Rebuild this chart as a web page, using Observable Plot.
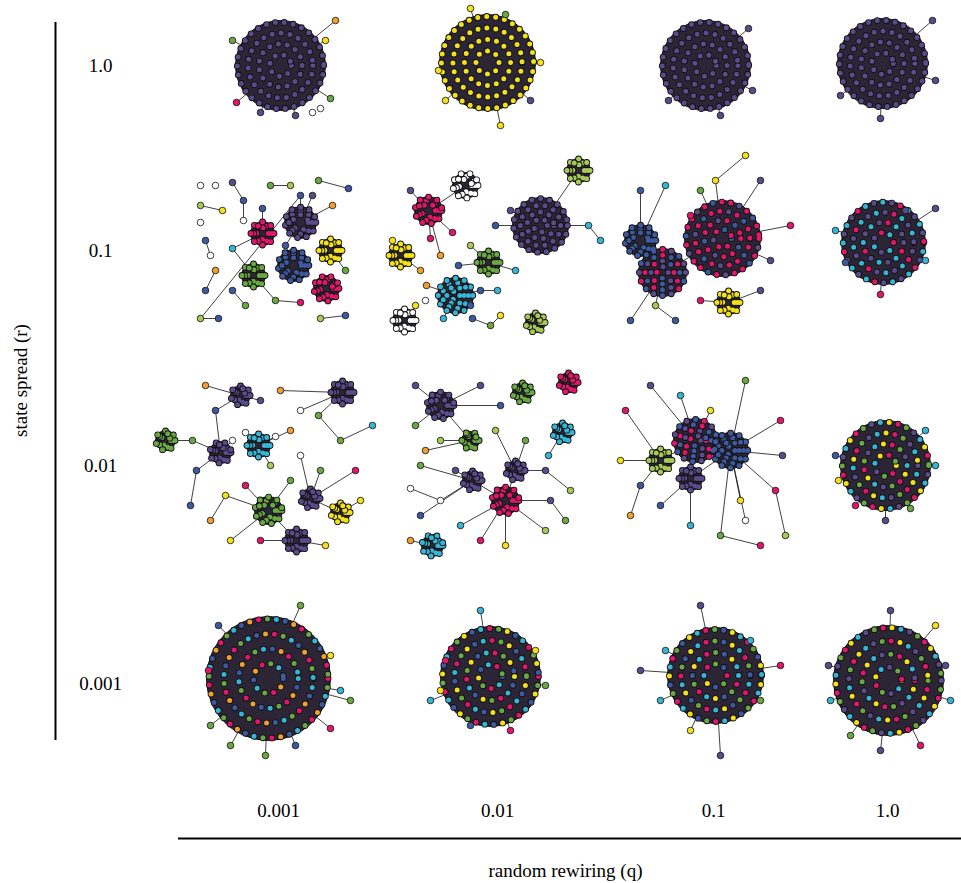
<!DOCTYPE html>
<html><head><meta charset="utf-8">
<script src="https://cdn.jsdelivr.net/npm/d3@7"></script>
<script src="https://cdn.jsdelivr.net/npm/@observablehq/plot@0.6"></script>
<style>body{margin:0;background:#fff}</style>
</head><body><div id="chart"></div>
<script>
// grid of network snapshots: rows = state spread r, columns = random rewiring q
const COLORS = {p:"#5a4b8c", y:"#f2e11b", m:"#e0176a", g:"#6aa843", b:"#3d5aa0",
  c:"#37b5d6", o:"#f0a030", w:"#ffffff", l:"#a8c85a"};

const rowLabels = ["1.0", "0.1", "0.01", "0.001"];
const rowY = [65, 250, 465, 683];
const colLabels = ["0.001", "0.01", "0.1", "1.0"];
const colX = [278, 497, 713, 887];

// each panel: dense clusters [x, y, radius, colour codes], loose nodes [x, y, colour], edges [i, j] (clusters first)
const panels = [
  {blobs:[[280,65,45,"p"]], nodes:[[236,102,"m"],[320,108,"w"],[312,112,"w"],[330,98,"g"],[325,40,"y"],[335,20,"o"],[232,40,"g"],[295,115,"p"],[260,112,"p"]],
   edges:[[0,1],[0,4],[0,5],[0,6],[0,7],[0,8],[0,9]]},
  {blobs:[[487,62,48,"y"]], nodes:[[445,100,"y"],[500,125,"y"],[540,62,"y"],[470,8,"y"],[505,14,"g"],[438,70,"y"],[530,100,"p"]],
   edges:[[0,1],[0,2],[0,3],[0,4],[0,5],[0,6],[0,7]]},
  {blobs:[[705,65,45,"p"]], nodes:[[668,100,"p"],[748,28,"p"],[720,115,"p"],[752,90,"p"]],
   edges:[[0,1],[0,2],[0,3],[0,4]]},
  {blobs:[[882,63,45,"p"]], nodes:[[840,95,"p"],[932,20,"p"],[880,118,"p"],[935,80,"p"]],
   edges:[[0,1],[0,2],[0,3],[0,4]]},

  {blobs:[[262,233,12,"m"],[300,222,16,"p"],[253,275,12,"g"],[293,265,16,"b"],[330,250,12,"y"],[326,288,13,"m"]],
   nodes:[[200,185,"w"],[215,185,"w"],[232,182,"p"],[270,185,"g"],[290,185,"l"],[318,180,"g"],[348,188,"b"],[200,205,"l"],[222,210,"y"],[243,200,"b"],[243,220,"w"],[300,195,"b"],[332,205,"o"],[205,240,"b"],[210,255,"w"],[215,270,"o"],[205,290,"b"],[232,290,"b"],[218,318,"b"],[245,305,"g"],[275,300,"g"],[300,302,"m"],[320,318,"l"],[345,315,"b"],[200,318,"l"],[232,248,"c"],[345,270,"g"],[200,222,"w"],[262,208,"b"],[285,245,"b"],[312,195,"p"]],
   edges:[[8,15],[15,16],[9,10],[11,12],[17,30],[13,14],[21,22],[23,25],[24,30],[26,27],[28,29],[31,0],[34,0],[35,3],[35,1],[32,4],[18,1],[17,1],[26,2],[19,20],[31,2],[36,1]]},
  {blobs:[[428,210,14,"m"],[540,225,28,"p"],[488,262,12,"g"],[400,255,12,"y"],[455,295,18,"c"],[465,185,13,"w"],[578,170,12,"l"],[404,320,12,"w"],[535,322,10,"l"]],
   nodes:[[410,190,"p"],[392,240,"y"],[420,270,"o"],[440,255,"o"],[430,238,"m"],[495,225,"b"],[510,210,"p"],[470,245,"l"],[458,265,"b"],[480,290,"b"],[497,290,"c"],[500,315,"y"],[490,325,"g"],[426,285,"o"],[425,300,"w"],[472,318,"b"],[600,240,"c"],[588,225,"c"],[443,318,"c"],[515,270,"c"],[415,305,"y"],[452,232,"m"],[470,305,"b"]],
   edges:[[9,0],[10,3],[11,3],[12,0],[13,0],[14,1],[15,1],[16,2],[17,2],[18,4],[19,18],[20,21],[22,4],[27,4],[25,26],[26,1],[6,1],[5,0],[28,2],[29,7],[30,0],[31,4],[24,21]]},
  {blobs:[[722,238,38,"mpmbm"],[662,272,24,"pbm"],[728,302,12,"y"],[640,240,16,"b"]],
   nodes:[[640,190,"b"],[665,185,"c"],[700,190,"g"],[715,180,"y"],[760,180,"p"],[790,225,"m"],[630,320,"b"],[655,305,"l"],[700,300,"m"],[745,155,"y"],[770,260,"p"],[690,215,"m"],[675,320,"b"],[760,290,"p"]],
   edges:[[4,3],[5,3],[6,0],[7,0],[8,0],[9,0],[10,1],[11,1],[12,2],[13,7],[14,0],[15,0],[16,11],[17,2],[1,0],[3,1]]},
  {blobs:[[883,242,42,"pcpmc"]], nodes:[[845,262,"b"],[835,230,"c"],[935,208,"p"],[925,260,"c"],[880,294,"m"],[905,210,"p"]],
   edges:[[0,1],[0,2],[0,3],[0,4],[0,5],[0,6]]},

  {blobs:[[165,440,10,"g"],[240,395,10,"p"],[342,392,12,"p"],[220,452,11,"p"],[258,445,12,"c"],[268,510,14,"g"],[296,540,12,"p"],[340,512,10,"y"],[310,498,10,"p"]],
   nodes:[[205,385,"o"],[215,410,"b"],[260,400,"p"],[280,390,"o"],[300,410,"w"],[232,440,"w"],[245,432,"w"],[275,436,"w"],[290,430,"o"],[300,455,"w"],[318,415,"g"],[340,440,"g"],[372,425,"c"],[196,470,"b"],[190,505,"b"],[210,520,"o"],[225,495,"y"],[245,485,"m"],[270,465,"l"],[290,480,"g"],[320,470,"g"],[355,470,"m"],[360,500,"y"],[325,545,"y"],[230,540,"y"],[260,540,"m"],[192,440,"g"]],
   edges:[[0,35],[35,3],[9,1],[10,1],[11,1],[12,2],[13,2],[19,2],[20,19],[21,20],[14,3],[15,4],[16,4],[17,4],[18,8],[22,3],[23,22],[24,25],[25,5],[26,5],[27,4],[28,5],[29,8],[30,8],[31,7],[32,6],[33,5],[34,6],[5,6],[8,7],[10,3]]},
  {blobs:[[440,405,14,"p"],[522,392,10,"g"],[568,382,10,"m"],[562,432,10,"c"],[505,500,14,"m"],[515,470,10,"p"],[472,480,10,"p"],[432,545,11,"c"],[470,440,9,"g"]],
   nodes:[[415,385,"p"],[480,385,"p"],[500,405,"b"],[415,425,"g"],[425,450,"o"],[420,465,"g"],[440,440,"l"],[495,430,"l"],[525,440,"g"],[545,470,"p"],[550,500,"p"],[440,500,"w"],[410,488,"w"],[420,515,"b"],[460,525,"c"],[480,540,"m"],[505,545,"y"],[545,530,"l"],[565,520,"g"],[570,490,"l"],[548,455,"c"],[410,540,"o"],[455,470,"p"]],
   edges:[[9,0],[10,0],[11,0],[12,0],[13,8],[14,6],[15,8],[16,5],[17,5],[18,5],[19,4],[20,6],[21,20],[22,6],[23,4],[24,4],[25,4],[26,4],[27,19],[28,18],[29,3],[30,7],[31,6],[5,4],[6,4],[8,0]]},
  {blobs:[[695,440,22,"pbm"],[730,450,18,"b"],[660,460,12,"l"],[690,478,12,"p"]],
   nodes:[[650,385,"p"],[680,395,"c"],[745,380,"g"],[780,420,"m"],[782,455,"p"],[625,410,"m"],[620,460,"y"],[630,515,"o"],[660,505,"b"],[690,525,"c"],[720,535,"g"],[745,520,"w"],[740,500,"y"],[775,490,"m"],[785,535,"l"],[760,545,"m"],[710,410,"y"],[640,485,"b"]],
   edges:[[4,0],[5,0],[6,1],[7,1],[8,1],[9,2],[10,2],[11,21],[21,2],[12,3],[13,3],[14,1],[15,1],[16,1],[17,1],[18,17],[19,14],[20,0],[0,1],[2,0],[3,1]]},
  {blobs:[[885,465,45,"gpcym"]], nodes:[[835,455,"b"],[838,480,"y"],[925,430,"c"],[935,465,"c"],[910,508,"g"],[855,505,"m"],[885,520,"p"]],
   edges:[[0,1],[0,2],[0,3],[0,4],[0,5],[0,6],[0,7]]},

  {blobs:[[268,678,62,"mgcbo"]], nodes:[[210,725,"g"],[230,745,"g"],[265,755,"g"],[295,745,"b"],[330,728,"m"],[340,690,"c"],[300,605,"g"],[218,625,"b"],[208,670,"m"],[330,655,"y"],[350,700,"g"]],
   edges:[[0,1],[0,2],[0,3],[0,4],[0,5],[0,6],[0,7],[0,8],[0,9],[0,10],[0,11]]},
  {blobs:[[490,676,50,"mgybc"]], nodes:[[440,690,"y"],[445,660,"m"],[470,725,"b"],[510,730,"m"],[545,685,"g"],[535,650,"y"],[480,610,"c"],[430,700,"c"]],
   edges:[[0,1],[0,2],[0,3],[0,4],[0,5],[0,6],[0,7],[0,8]]},
  {blobs:[[715,675,48,"bycmg"]], nodes:[[640,670,"p"],[665,650,"c"],[690,730,"y"],[720,755,"p"],[760,700,"g"],[780,665,"m"],[700,605,"p"],[750,640,"c"],[660,700,"c"]],
   edges:[[0,1],[0,2],[0,3],[0,4],[0,5],[0,6],[0,7],[0,8],[0,9]]},
  {blobs:[[888,680,55,"pgmyc"]], nodes:[[830,700,"c"],[828,665,"p"],[850,735,"g"],[880,750,"p"],[920,745,"m"],[950,700,"c"],[945,665,"p"],[890,610,"p"],[935,625,"y"]],
   edges:[[0,1],[0,2],[0,3],[0,4],[0,5],[0,6],[0,7],[0,8],[0,9]]}
];

// flatten for the marks
const blobs = [], nodes = [], links = [];
for (const p of panels) {
  const pts = [...p.blobs.map(b => [b[0], b[1]]), ...p.nodes.map(n => [n[0], n[1]])];
  for (const [i, j] of p.edges) if (pts[i] && pts[j]) links.push({x1: pts[i][0], y1: pts[i][1], x2: pts[j][0], y2: pts[j][1]});
  for (const n of p.nodes) nodes.push({x: n[0], y: n[1], c: COLORS[n[2]]});
  for (const b of p.blobs) blobs.push({x: b[0], y: b[1], r: b[2], codes: b[3]});
}
// rings of cluster members; five colour slots interleaved along each ring
const SLOTS = 5, GAP = 9;
const rings = [];
for (const b of blobs) {
  [0.96, 0.72, 0.48, 0.24].forEach((k, i) => {
    if (b.r * k < 4) return;
    for (let s = 0; s < SLOTS; s++)
      rings.push({x: b.x, y: b.y, r: b.r * k, slot: s, c: COLORS[b.codes[(s + i) % b.codes.length]]});
  });
}
const ringMarks = [];
for (let s = 0; s < SLOTS; s++) {
  const d = rings.filter(r => r.slot === s);
  const opts = {x: "x", y: "y", r: "r", fill: "none", strokeDasharray: `0 ${GAP * SLOTS}`, strokeDashoffset: -s * GAP, strokeLinecap: "round"};
  ringMarks.push(Plot.dot(d, {...opts, stroke: "#111", strokeWidth: 6.8}));
  ringMarks.push(Plot.dot(d, {...opts, stroke: "c", strokeWidth: 5}));
}

const font = "'Liberation Serif', 'DejaVu Serif', serif";
const plot = Plot.plot({
  width: 961, height: 883, margin: 0,
  x: {domain: [0, 961], range: [0, 961], axis: null},
  y: {domain: [0, 883], range: [0, 883], axis: null},
  r: {type: "identity"},
  marks: [
    Plot.link(links, {x1: "x1", y1: "y1", x2: "x2", y2: "y2", stroke: "#111", strokeWidth: 0.8}),
    Plot.dot(blobs, {x: "x", y: "y", r: "r", fill: "#2b2536", stroke: "#111", strokeWidth: 1}),
    ...ringMarks,
    Plot.dot(nodes, {x: "x", y: "y", r: 3.3, fill: "c", stroke: "#111", strokeWidth: 0.8}),
    Plot.ruleX([55], {y1: 22, y2: 740, stroke: "#000", strokeWidth: 2}),
    Plot.ruleY([838], {x1: 178, x2: 961, stroke: "#000", strokeWidth: 2}),
    Plot.text(rowLabels, {x: 100, y: (d, i) => rowY[i], text: d => d, fontSize: 19, fontFamily: font, fill: "#000"}),
    Plot.text(colLabels, {x: (d, i) => colX[i], y: 810, text: d => d, fontSize: 19, fontFamily: font, fill: "#000"}),
    Plot.text(["state spread (r)"], {x: 20, y: 380, rotate: -90, fontSize: 19, fontFamily: font, fill: "#000"}),
    Plot.text(["random rewiring (q)"], {x: 565, y: 870, fontSize: 19, fontFamily: font, fill: "#000"})
  ]
});
document.getElementById("chart").appendChild(plot);
</script>
</body></html>
